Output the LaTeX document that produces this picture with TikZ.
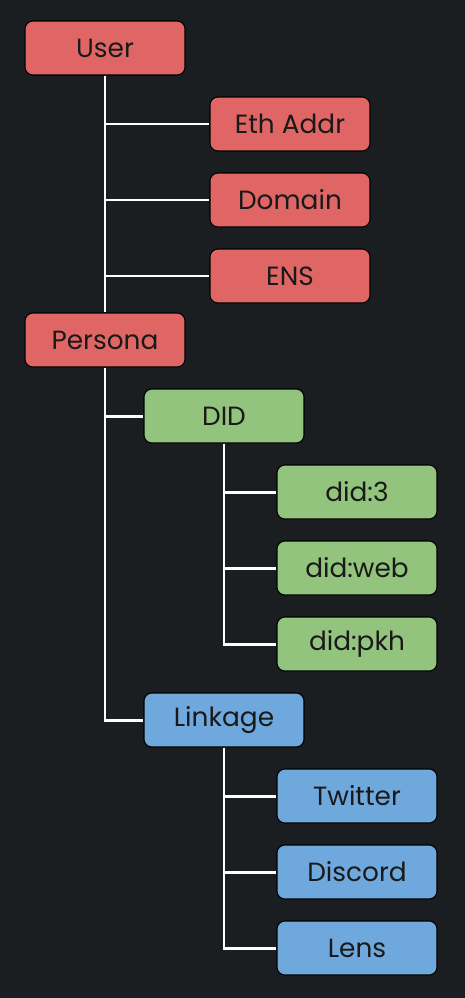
\documentclass[tikz,border=0pt]{standalone}
\usepackage{fontspec}
\setmainfont{Poppins}
\definecolor{bgdark}{HTML}{1B1E21}
\definecolor{idred}{HTML}{E06666}
\definecolor{idgreen}{HTML}{93C47D}
\definecolor{idblue}{HTML}{6FA8DC}
\begin{document}
\begin{tikzpicture}[x=0.02cm,y=-0.02cm,
		box/.style={draw=black,line width=0.6pt,rounded corners=4.5pt,
			minimum width=3.2cm,minimum height=1.08cm,inner sep=0pt,
			font=\fontsize{15}{17}\selectfont,text=black!90},
		redbox/.style={box,fill=idred},
		greenbox/.style={box,fill=idgreen},
		bluebox/.style={box,fill=idblue},
		link/.style={white,line width=1.7pt}]
		% Background
		\fill[bgdark] (0,0) rectangle (465,998);
		\useasboundingbox (0,0) rectangle (465,998);
		
		% Nodes
		\node[redbox] (user) at (105,48) {User};
		\node[redbox] (eth) at (290,124) {Eth Addr};
		\node[redbox] (domain) at (290,200) {Domain};
		\node[redbox] (ens) at (290,276) {ENS};
		\node[redbox] (persona) at (105,340) {Persona};
		\node[greenbox] (did) at (224,416) {DID};
		\node[greenbox] (did3) at (357,492) {did:3};
		\node[greenbox] (didweb) at (357,568) {did:web};
		\node[greenbox] (didpkh) at (357,644) {did:pkh};
		\node[bluebox] (linkage) at (224,720) {Linkage};
		\node[bluebox] (twitter) at (357,796) {Twitter};
		\node[bluebox] (discord) at (357,872) {Discord};
		\node[bluebox] (lens) at (357,948) {Lens};
		
		% Links
		\draw[link] (user.south) -- (persona.north);
		\draw[link] (user.south) |- (eth.west);
		\draw[link] (user.south) |- (domain.west);
		\draw[link] (user.south) |- (ens.west);
		\draw[link] (persona.south) |- (did.west);
		\draw[link] (persona.south) |- (linkage.west);
		\draw[link] (did.south) |- (did3.west);
		\draw[link] (did.south) |- (didweb.west);
		\draw[link] (did.south) |- (didpkh.west);
		\draw[link] (linkage.south) |- (twitter.west);
		\draw[link] (linkage.south) |- (discord.west);
		\draw[link] (linkage.south) |- (lens.west);
\end{tikzpicture}
\end{document}
